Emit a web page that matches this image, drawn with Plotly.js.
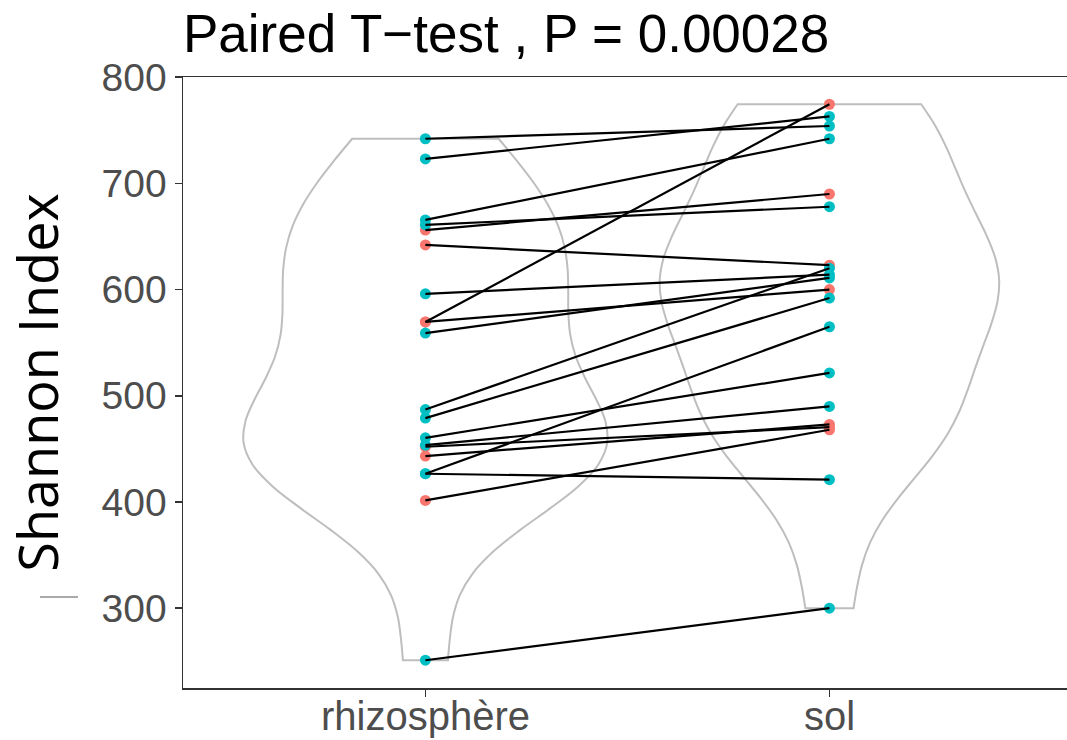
<!DOCTYPE html>
<html>
<head>
<meta charset="utf-8">
<script src="https://cdn.plot.ly/plotly-3.0.1.min.js"></script>
<style>html,body{margin:0;padding:0;background:#fff;}#chart{width:1067px;height:740px;}</style>
</head>
<body>
<div id="chart"></div>
<script>
const categories = ['rhizosphère', 'sol'];
const rhizo = [742, 723, 665.6, 661, 656, 642, 596, 569.5, 569.5, 559, 487, 479, 460.4, 453.5, 452, 443.2, 426.6, 426.6, 401.5, 251];
const sol   = [754, 763, 742, 678, 690, 623, 614, 774.5, 600, 611, 620, 592, 521.5, 490, 470.5, 473, 421, 565, 468, 300];
const group = ['B','B','B','B','A','A','B','A','A','B','B','B','B','B','A','A','B','B','A','B'];
const yTicks = [300, 400, 500, 600, 700, 800];
const titleText = 'Paired T\u2212test , P = 0.00028';
const yTitle = 'Shannon Index';

const colors = {A: '#F8766D', B: '#00BFC4'};
const traces = [];
traces.push({type: 'violin', x: rhizo.map(() => categories[0]), y: rhizo, spanmode: 'hard', bandwidth: 62,
  width: 0.9, points: false, box: {visible: false}, meanline: {visible: false},
  line: {color: '#BEBEBE', width: 2}, fillcolor: 'rgba(0,0,0,0)', hoverinfo: 'skip', showlegend: false});
traces.push({type: 'violin', x: sol.map(() => categories[1]), y: sol, spanmode: 'hard', bandwidth: 62.7,
  width: 0.84, points: false, box: {visible: false}, meanline: {visible: false},
  line: {color: '#BEBEBE', width: 2}, fillcolor: 'rgba(0,0,0,0)', hoverinfo: 'skip', showlegend: false});
['A', 'B'].forEach(g => {
  const xs = [], ys = [];
  group.forEach((gg, i) => { if (gg === g) { xs.push(categories[0], categories[1]); ys.push(rhizo[i], sol[i]); } });
  traces.push({type: 'scatter', mode: 'markers', x: xs, y: ys, marker: {color: colors[g], size: 11}, showlegend: false, hoverinfo: 'skip'});
});
const lx = [], ly = [];
rhizo.forEach((v, i) => { lx.push(categories[0], categories[1], null); ly.push(v, sol[i], null); });
traces.push({type: 'scatter', mode: 'lines', x: lx, y: ly, line: {color: '#000000', width: 2.2}, showlegend: false, hoverinfo: 'skip', connectgaps: false});

const tickFont = {family: 'Liberation Sans, Arial, sans-serif', size: 40, color: '#4D4D4D'};
const layout = {
  width: 1067, height: 740,
  margin: {l: 183, r: 0, t: 77, b: 52},
  paper_bgcolor: '#fff', plot_bgcolor: '#fff',
  violinmode: 'overlay',
  title: {text: titleText, font: {family: 'Liberation Sans, Arial, sans-serif', size: 53, color: '#000'},
    x: 183/1067, xanchor: 'left', xref: 'container', y: 1 - 33/740, yanchor: 'middle', yref: 'container'},
  xaxis: {type: 'category', categoryorder: 'array', categoryarray: categories, range: [-0.6, 1.588],
    showgrid: false, zeroline: false, showline: true, linecolor: '#333', linewidth: 1.5, mirror: true,
    ticks: 'outside', ticklen: 7, tickwidth: 1.5, tickcolor: '#333', showticklabels: false},
  yaxis: {range: [224.85, 800.15], tickvals: yTicks, ticktext: yTicks.map(String),
    showgrid: false, zeroline: false, showline: true, linecolor: '#333', linewidth: 1.5,
    ticks: 'outside', ticklen: 7, tickwidth: 1.5, tickcolor: '#333',
    tickfont: {family: 'Liberation Sans, Arial, sans-serif', size: 39, color: '#4D4D4D'},
    title: {text: yTitle, font: {family: 'Open Sans, sans-serif', size: 54, color: '#000'}, standoff: 28}},
  annotations: categories.map(c => ({x: c, xref: 'x', y: 0, yref: 'paper', yanchor: 'top', xanchor: 'center',
    yshift: -4, text: c, showarrow: false, font: tickFont})),
  shapes: [{type: 'line', xref: 'paper', yref: 'paper', x0: -143/884, x1: -105/884, y0: (688-597)/611, y1: (688-597)/611,
    line: {color: '#555', width: 1}}]
};
Plotly.newPlot('chart', traces, layout, {staticPlot: true, displayModeBar: false});
</script>
</body>
</html>
